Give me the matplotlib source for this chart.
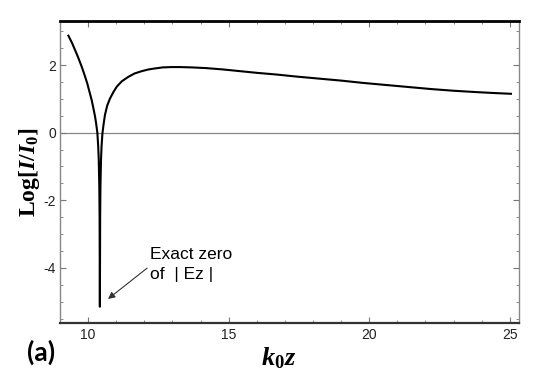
import matplotlib
matplotlib.use("Agg")
import matplotlib.pyplot as plt
from matplotlib.ticker import MultipleLocator

plt.rcParams['axes.unicode_minus'] = False
plt.rcParams['mathtext.fontset'] = 'custom'
plt.rcParams['mathtext.rm'] = 'Liberation Serif:bold'
plt.rcParams['mathtext.bf'] = 'Liberation Serif:bold'
plt.rcParams['mathtext.it'] = 'Liberation Serif:bold:italic'

# Data
k0z = [9.30, 9.42, 9.53, 9.65, 9.77, 9.87, 9.97, 10.05, 10.13, 10.19,
       10.25, 10.29, 10.33, 10.36, 10.38, 10.40, 10.41, 10.42,
       10.43, 10.44, 10.46, 10.48, 10.51, 10.55, 10.60, 10.68, 10.78, 10.90,
       11.02, 11.20, 11.43, 11.65, 11.91, 12.15, 12.38, 12.65, 12.95, 13.30,
       13.70, 14.20, 14.80, 15.40, 16.00, 16.70, 17.40, 18.20, 19.00, 19.80,
       20.60, 21.40, 22.20, 23.00, 23.80, 24.50, 25.04]
logI = [2.87, 2.67, 2.46, 2.22, 1.96, 1.72, 1.46, 1.21, 0.96, 0.72,
        0.47, 0.25, 0.00, -0.40, -0.80, -1.60, -2.50, -5.15,
        -2.50, -1.60, -0.80, -0.40, -0.03, 0.24, 0.52, 0.80, 1.01, 1.20,
        1.36, 1.52, 1.65, 1.75, 1.82, 1.87, 1.90, 1.93, 1.94, 1.94,
        1.93, 1.91, 1.87, 1.82, 1.77, 1.72, 1.66, 1.60, 1.54, 1.47,
        1.41, 1.35, 1.29, 1.24, 1.20, 1.17, 1.15]

xticks = [10, 15, 20, 25]
yticks = [-4, -2, 0, 2]

fig = plt.figure(figsize=(5.45, 3.84), dpi=100)
ax = fig.add_axes([0.110, 0.159, 0.842, 0.786])

ax.axhline(0, color='#888888', lw=0.9, zorder=1)
ax.plot(k0z, logI, color='black', lw=1.5, zorder=2, solid_joinstyle='round')

ax.set_xlim(9.0, 25.32)
ax.set_ylim(-5.63, 3.3)
ax.set_xticks(xticks)
ax.set_yticks(yticks)
ax.xaxis.set_minor_locator(MultipleLocator(1))
ax.yaxis.set_minor_locator(MultipleLocator(0.5))
ax.tick_params(which='both', direction='in', top=True, right=True,
               color='#777777', labelcolor='#222222', labelsize=10)
ax.tick_params(which='major', length=4, width=0.8)
ax.tick_params(which='minor', length=2.5, width=0.6)
ax.tick_params(axis='x', pad=4)
ax.tick_params(axis='y', pad=3)
for lab in ax.get_xticklabels() + ax.get_yticklabels():
    lab.set_family('Liberation Sans')

ax.spines['top'].set_color('black')
ax.spines['top'].set_linewidth(2.0)
ax.spines['bottom'].set_color('#333333')
ax.spines['bottom'].set_linewidth(1.6)
ax.spines['left'].set_color('#888888')
ax.spines['left'].set_linewidth(1.0)
ax.spines['right'].set_color('#888888')
ax.spines['right'].set_linewidth(1.0)

ax.set_ylabel(r'$\mathrm{Log}[I/I_0]$', fontsize=17)
ax.yaxis.set_label_coords(-0.040, 0.5)
ax.set_xlabel(r'$k_0z$', fontsize=19)
ax.xaxis.set_label_coords(0.477, -0.076)

ax.annotate('Exact zero\nof  | Ez |', xy=(10.71, -4.92), xytext=(12.2, -3.9),
            fontsize=12.5, family='Liberation Sans', ha='left', va='center',
            linespacing=1.35,
            arrowprops=dict(arrowstyle='-|>', color='#333333', lw=0.8,
                            mutation_scale=10, shrinkA=0, shrinkB=0,
                            relpos=(-0.02, 0.42)))

fig.text(0.050, 0.083, '(a)', fontsize=19, fontweight='bold', family='Lato',
         ha='left', va='center')

fig.savefig('out.png', dpi=100)
